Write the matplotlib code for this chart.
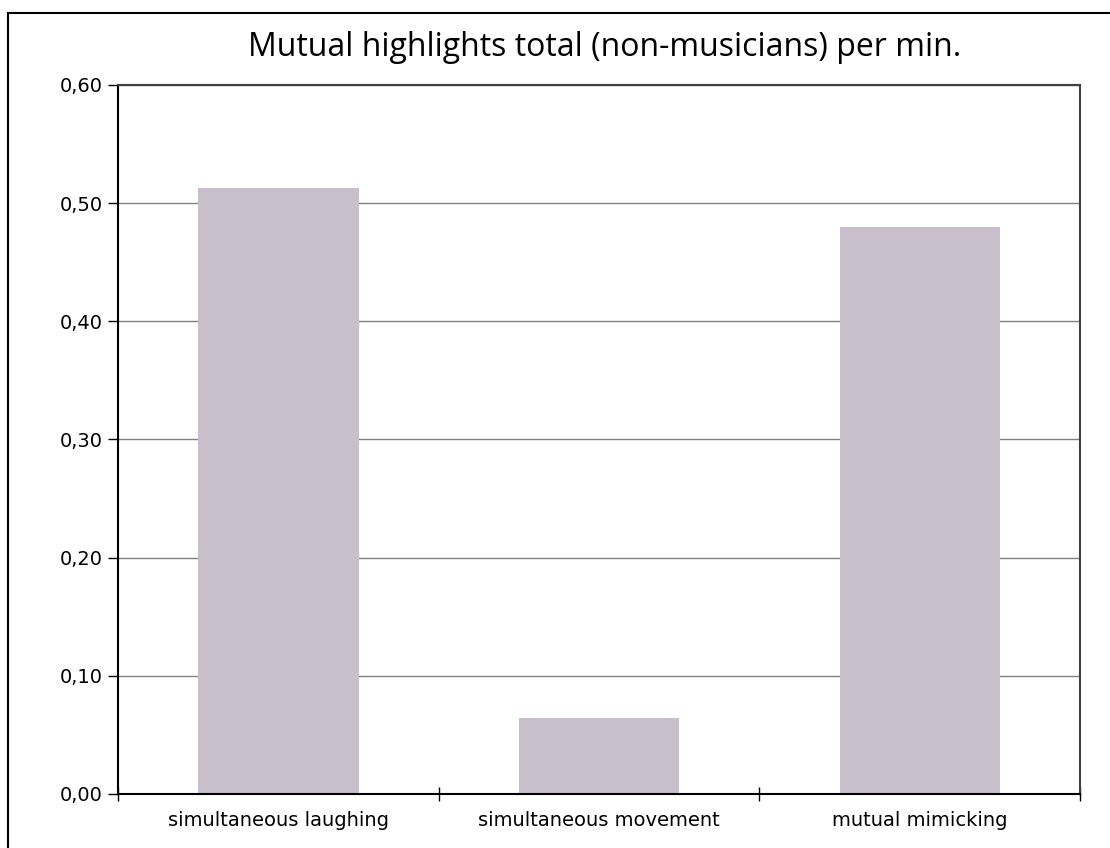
import matplotlib
matplotlib.use('Agg')
import matplotlib.pyplot as plt
from matplotlib.patches import Rectangle
from matplotlib.ticker import FuncFormatter, MultipleLocator

categories = ["simultaneous laughing", "simultaneous movement", "mutual mimicking"]
values = [0.513, 0.064, 0.480]
title = "Mutual highlights total (non-musicians) per min."

fig = plt.figure(figsize=(11.1, 8.48), dpi=100)
ax = fig.add_axes([0.1063, 0.0637, 0.8667, 0.8361])

# outer chart border (only left/top visible in the original)
fig.add_artist(Rectangle((8 / 1110, -0.1), 1.2, 0.1 + (848 - 13) / 848,
                         transform=fig.transFigure, fill=False,
                         edgecolor='black', linewidth=1.5))

x = range(len(categories))
ax.bar(x, values, width=0.5, color='#c9bfcc', zorder=2)

ax.set_xlim(-0.5, 2.5)
ax.set_ylim(0, 0.6)
ax.yaxis.set_major_locator(MultipleLocator(0.1))
ax.yaxis.set_major_formatter(FuncFormatter(lambda v, p: f"{v:.2f}".replace('.', ',')))
ax.grid(axis='y', color='#808080', linewidth=1, zorder=1)

ax.set_xticks(list(x))
ax.set_xticklabels(categories)
ax.tick_params(axis='x', length=0, pad=12, labelsize=14)
ax.set_xticks([-0.5, 0.5, 1.5, 2.5], minor=True)
ax.tick_params(axis='x', which='minor', direction='inout', length=10, width=1)
ax.tick_params(axis='y', direction='out', length=7, width=1, labelsize=14, pad=4)

for s in ['left', 'bottom']:
    ax.spines[s].set_color('black')
    ax.spines[s].set_linewidth(1.5)
for s in ['top', 'right']:
    ax.spines[s].set_color('#404040')
    ax.spines[s].set_linewidth(1.5)

fig.text(0.545, 0.944, title, ha='center', va='center', fontsize=23, family='Open Sans')

plt.savefig("out.png", dpi=100)
